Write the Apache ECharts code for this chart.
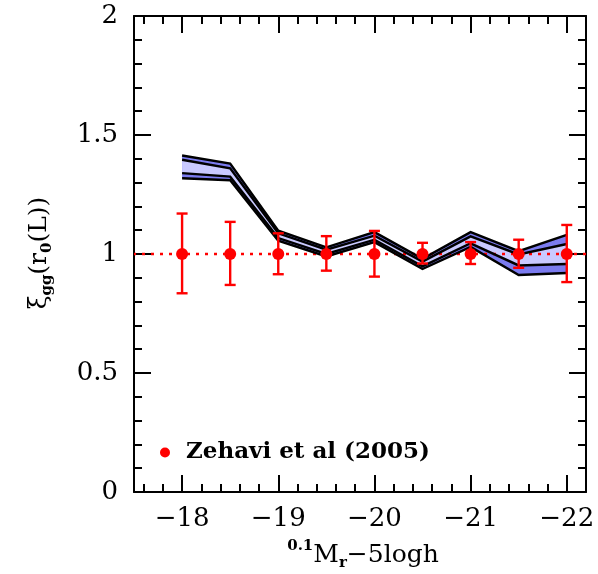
<!DOCTYPE html>
<html><head><meta charset="utf-8">
<script src="https://cdn.jsdelivr.net/npm/echarts@6/dist/echarts.min.js"></script>
<style>html,body{margin:0;padding:0;background:#fff}#c{width:598px;height:574px}</style>
</head><body><div id="c"></div>
<script>
// ---- data ----
const magnitudes   = [-18, -18.5, -19, -19.5, -20, -20.5, -21, -21.5, -22];
const zehaviValue  = [1, 1, 1, 1, 1, 1, 1, 1, 1];
const zehaviUpper  = [1.17, 1.135, 1.087, 1.075, 1.097, 1.047, 1.05, 1.06, 1.122];
const zehaviLower  = [0.835, 0.87, 0.915, 0.93, 0.905, 0.96, 0.958, 0.942, 0.882];
const outerUpper   = [1.414, 1.38, 1.098, 1.028, 1.092, 0.98, 1.092, 1.012, 1.08];
const innerUpper   = [1.396, 1.36, 1.087, 1.018, 1.077, 0.968, 1.074, 0.998, 1.042];
const innerLower   = [1.34, 1.325, 1.067, 1.0, 1.06, 0.948, 1.045, 0.952, 0.958];
const outerLower   = [1.318, 1.31, 1.056, 0.99, 1.05, 0.937, 1.03, 0.912, 0.92];
const xMajorTicks  = [-18, -19, -20, -21, -22];
const xMinorTicks  = [-17.6, -17.8, -18.2, -18.4, -18.6, -18.8, -19.2, -19.4, -19.6, -19.8,
                      -20.2, -20.4, -20.6, -20.8, -21.2, -21.4, -21.6, -21.8, -22.2];
const referenceLevel = 1;
const legendLabel = 'Zehavi et al (2005)';

const chart = echarts.init(document.getElementById('c'), null, {renderer: 'canvas'});
const FONT = 'DejaVu Serif';
const XMIN = -22.2, XMAX = -17.5;

function bandSeries(upper, lower, color, z) {
  return {
    type: 'custom', z: z, silent: true, clip: true,
    data: magnitudes.map((m, i) => [m, lower[i], upper[i]]),
    encode: {x: 0, y: [1, 2]},
    renderItem: function (params, api) {
      if (params.dataIndex !== 0) return null;
      const pts = [];
      for (let i = 0; i < magnitudes.length; i++) pts.push(api.coord([magnitudes[i], upper[i]]));
      for (let i = magnitudes.length - 1; i >= 0; i--) pts.push(api.coord([magnitudes[i], lower[i]]));
      return {type: 'polygon', shape: {points: pts}, style: {fill: color, stroke: null}};
    }
  };
}
function blackLine(vals) {
  return {
    type: 'line', z: 5, silent: true, symbol: 'none',
    data: magnitudes.map((m, i) => [m, vals[i]]),
    lineStyle: {color: '#000', width: 2.4, join: 'miter'}
  };
}
const axisLineStyle = {lineStyle: {color: '#000', width: 2}};

const xBase = {type: 'value', min: XMIN, max: XMAX, inverse: true, splitLine: {show: false}, gridIndex: 0};

const option = {
  animation: false,
  backgroundColor: '#fff',
  grid: {left: 134, right: 12, top: 16, bottom: 82, containLabel: false},
  xAxis: [
    Object.assign({}, xBase, {position: 'bottom', axisLine: axisLineStyle,
      axisTick: {inside: true, length: 17, lineStyle: {color: '#000', width: 2}, customValues: xMajorTicks},
      axisLabel: {customValues: xMajorTicks, margin: 14, color: '#000', fontFamily: FONT, fontSize: 26,
        formatter: v => '\u2212' + Math.abs(v)}}),
    Object.assign({}, xBase, {position: 'bottom', axisLine: {show: false},
      axisTick: {inside: true, length: 8, lineStyle: {color: '#000', width: 2}, customValues: xMinorTicks},
      axisLabel: {show: false}}),
    Object.assign({}, xBase, {position: 'top', axisLine: axisLineStyle,
      axisTick: {inside: true, length: 17, lineStyle: {color: '#000', width: 2}, customValues: xMajorTicks},
      axisLabel: {show: false}}),
    Object.assign({}, xBase, {position: 'top', axisLine: {show: false},
      axisTick: {inside: true, length: 8, lineStyle: {color: '#000', width: 2}, customValues: xMinorTicks},
      axisLabel: {show: false}})
  ],
  yAxis: [
    {type: 'value', min: 0, max: 2, interval: 0.5, position: 'left', splitLine: {show: false},
     axisLine: axisLineStyle,
     axisTick: {inside: true, length: 17, lineStyle: {color: '#000', width: 2}},
     minorTick: {show: true, splitNumber: 5, length: 8, lineStyle: {color: '#000', width: 2}},
     minorSplitLine: {show: false},
     axisLabel: {margin: 16, color: '#000', fontFamily: FONT, fontSize: 26}},
    {type: 'value', min: 0, max: 2, interval: 0.5, position: 'right', splitLine: {show: false},
     axisLine: axisLineStyle,
     axisTick: {inside: true, length: 17, lineStyle: {color: '#000', width: 2}},
     minorTick: {show: true, splitNumber: 5, length: 8, lineStyle: {color: '#000', width: 2}},
     minorSplitLine: {show: false},
     axisLabel: {show: false}}
  ],
  legend: {
    left: 155, top: 436, orient: 'vertical',
    itemWidth: 10, itemHeight: 10, itemGap: 0,
    data: [{name: legendLabel, icon: 'circle', itemStyle: {color: '#ff0000', opacity: 1}}],
    textStyle: {fontFamily: FONT, fontSize: 23, fontWeight: 'bold', color: '#000', padding: [0, 0, 0, 11]}
  },
  series: [
    bandSeries(outerUpper, outerLower, '#7b7bef', 2),
    bandSeries(innerUpper, innerLower, '#c9c9ff', 3),
    blackLine(outerUpper), blackLine(innerUpper), blackLine(innerLower), blackLine(outerLower),
    {
      type: 'line', z: 8, silent: true, symbol: 'none', data: [],
      markLine: {silent: true, symbol: 'none', label: {show: false},
        lineStyle: {color: '#ff0000', type: [3, 6], width: 2.4, opacity: 1},
        data: [{yAxis: referenceLevel}]}
    },
    {
      type: 'custom', z: 9, silent: true,
      data: magnitudes.map((m, i) => [m, zehaviLower[i], zehaviUpper[i]]),
      encode: {x: 0, y: [1, 2]},
      renderItem: function (params, api) {
        const x = api.value(0);
        const lo = api.coord([x, api.value(1)]);
        const hi = api.coord([x, api.value(2)]);
        const w = 5.5;
        const st = {stroke: '#ff0000', lineWidth: 2.4};
        return {type: 'group', children: [
          {type: 'line', shape: {x1: lo[0], y1: lo[1], x2: hi[0], y2: hi[1]}, style: st},
          {type: 'line', shape: {x1: lo[0] - w, y1: lo[1], x2: lo[0] + w, y2: lo[1]}, style: st},
          {type: 'line', shape: {x1: hi[0] - w, y1: hi[1], x2: hi[0] + w, y2: hi[1]}, style: st}
        ]};
      }
    },
    {
      name: legendLabel, type: 'scatter', z: 10, symbol: 'circle', symbolSize: 12,
      itemStyle: {color: '#ff0000', opacity: 1},
      data: magnitudes.map((m, i) => [m, zehaviValue[i]])
    }
  ],
  graphic: [
    {type: 'text', x: 363, y: 555, style: {
      text: '{sup|0.1}{m|M}{sub|r}{m|\u22125logh}', align: 'center', verticalAlign: 'middle',
      rich: {
        m: {fontFamily: FONT, fontSize: 25, fill: '#000', lineHeight: 32, verticalAlign: 'middle'},
        sup: {fontFamily: FONT, fontSize: 15, fontWeight: 'bold', fill: '#000', lineHeight: 22, verticalAlign: 'top'},
        sub: {fontFamily: FONT, fontSize: 15, fontWeight: 'bold', fill: '#000', lineHeight: 20, verticalAlign: 'bottom'}
      }}},
    {type: 'text', x: 39, y: 253, rotation: Math.PI / 2, style: {
      text: '{m|\u03be}{sub|gg}{m|(r}{sub|0}{m|(L))}', align: 'center', verticalAlign: 'middle',
      rich: {
        m: {fontFamily: FONT, fontSize: 25, fill: '#000', lineHeight: 32, verticalAlign: 'middle'},
        sub: {fontFamily: FONT, fontSize: 15, fontWeight: 'bold', fill: '#000', lineHeight: 20, verticalAlign: 'bottom'}
      }}}
  ]
};
chart.setOption(option);
</script>
</body></html>
